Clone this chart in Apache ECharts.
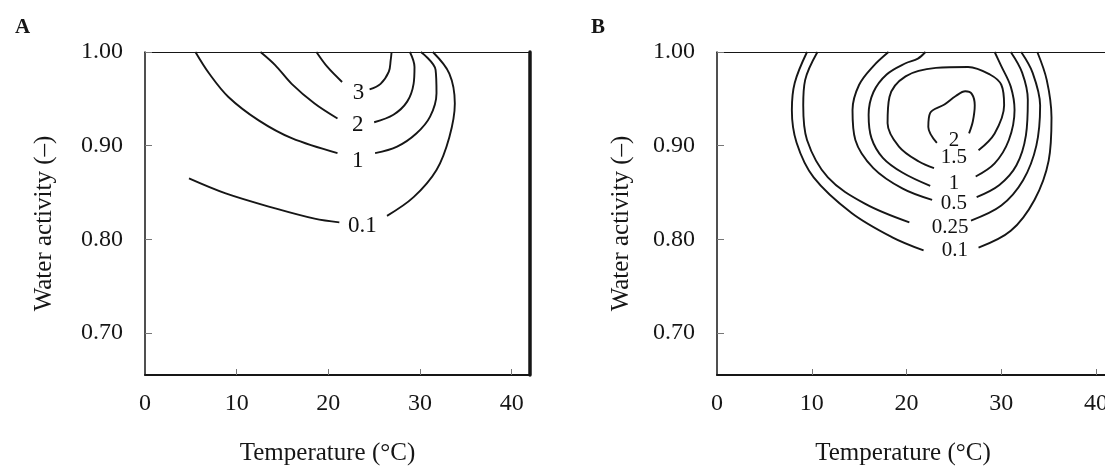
<!DOCTYPE html>
<html><head><meta charset="utf-8">
<script src="https://cdn.jsdelivr.net/npm/echarts@6/dist/echarts.min.js"></script>
<style>html,body{margin:0;padding:0;background:#fff}#c{width:1105px;height:467px}</style>
</head><body><div id="c"></div>
<script>
// ---------- data ----------
const xTickValues = [0, 10, 20, 30, 40];
const yTickValues = [0.70, 0.80, 0.90, 1.00];
const xName = 'Temperature (°C)';
const yName = 'Water activity (–)';
const panelNames = ['A', 'B'];

// Panel A contours [temperature °C, water activity]; null = gap for the label
const levelsA = ['3', '2', '1', '0.1'];
const contourA_3 = [[18.7,1.000],[19.9,0.984],[21.5,0.968], null, [24.5,0.960],[25.7,0.966],[26.6,0.979],[26.8,0.991],[26.9,1.000]];
const contourA_2 = [[12.6,1.000],[14.2,0.986],[16.0,0.966],[18.5,0.945],[21.0,0.929], null, [25.0,0.925],[27.1,0.933],[28.6,0.947],[29.3,0.966],[29.4,0.984],[28.9,1.000]];
const contourA_1 = [[5.5,1.000],[7.0,0.977],[9.1,0.952],[12.4,0.927],[16.0,0.908],[21.0,0.892], null, [25.1,0.892],[27.5,0.899],[29.6,0.913],[31.1,0.931],[31.8,0.956],[31.7,0.981],[30.1,1.000]];
const contourA_01 = [[4.8,0.865],[8.8,0.849],[14.2,0.833],[18.5,0.822],[21.2,0.818], null, [26.4,0.825],[29.3,0.845],[31.8,0.874],[33.2,0.909],[33.8,0.945],[33.2,0.977],[31.4,1.000]];
const labelPosA = [[23.3,0.956],[23.2,0.922],[23.2,0.884],[23.7,0.814]];

// Panel B contours
const levelsB = ['2', '1.5', '1', '0.5', '0.25', '0.1'];
const contourB_2 = [[23.2,0.903],[22.3,0.920],[22.5,0.935],[24.0,0.944],[25.2,0.953],[26.2,0.958],[26.9,0.955],[27.2,0.943],[27.0,0.926],[26.6,0.913]];
const contourB_15 = [[22.9,0.876],[21.3,0.883],[19.2,0.899],[18.0,0.924],[18.2,0.952],[19.9,0.974],[23.1,0.983],[26.5,0.984],[28.8,0.976],[30.0,0.965],[30.3,0.943],[29.3,0.913],[27.6,0.895]];
const contourB_1 = [[22.0,1.000],[21.2,0.993],[19.9,0.988],[17.9,0.976],[16.5,0.957],[16.0,0.933],[16.3,0.908],[17.5,0.887],[19.6,0.871],[22.5,0.857], null, [27.3,0.867],[29.3,0.881],[30.8,0.906],[31.4,0.938],[31.0,0.963],[30.0,0.985],[29.3,1.000]];
const contourB_05 = [[18.1,1.000],[16.5,0.985],[15.0,0.965],[14.3,0.938],[14.6,0.906],[16.5,0.876],[19.6,0.854],[22.7,0.842], null, [27.4,0.845],[29.8,0.858],[31.6,0.879],[32.6,0.911],[32.8,0.949],[32.2,0.978],[31.0,1.000]];
const contourB_025 = [[10.6,1.000],[9.3,0.970],[9.1,0.943],[9.5,0.906],[11.7,0.866],[15.6,0.838],[20.3,0.818], null, [26.8,0.820],[30.0,0.836],[32.3,0.863],[33.7,0.900],[34.1,0.943],[33.3,0.978],[32.1,1.000]];
const contourB_01 = [[9.5,1.000],[8.2,0.967],[7.9,0.938],[8.4,0.903],[10.2,0.866],[14.2,0.828],[18.5,0.802],[21.8,0.788], null, [27.6,0.791],[31.0,0.809],[33.5,0.842],[35.0,0.884],[35.3,0.930],[34.8,0.970],[33.8,1.000]];
const labelPosB = [[25.0,0.906],[25.0,0.887],[25.0,0.860],[25.0,0.838],[24.6,0.813],[25.1,0.788]];

// ---------- chart ----------
const FONT = '"Liberation Serif", "Times New Roman", serif';
const INK = '#161616';
const contoursA = [contourA_3, contourA_2, contourA_1, contourA_01];
const contoursB = [contourB_2, contourB_15, contourB_1, contourB_05, contourB_025, contourB_01];

function splitSegments(arr) {
  const segs = []; let cur = [];
  arr.forEach(p => { if (p === null) { if (cur.length) segs.push(cur); cur = []; } else cur.push(p); });
  if (cur.length) segs.push(cur);
  return segs;
}

const series = [];
function addPanel(contours, levels, labelPos, axisIdx, labelSize) {
  contours.forEach(c => {
    splitSegments(c).forEach(seg => {
      series.push({
        type: 'line', xAxisIndex: axisIdx, yAxisIndex: axisIdx, data: seg,
        smooth: 0.35, symbol: 'none', silent: true,
        lineStyle: { color: INK, width: 1.9 }
      });
    });
  });
  series.push({
    type: 'scatter', xAxisIndex: axisIdx, yAxisIndex: axisIdx, silent: true,
    symbol: 'circle', symbolSize: 1, itemStyle: { color: '#ffffff', opacity: 1 },
    data: labelPos.map((p, i) => ({ value: p, name: levels[i] })),
    label: { show: true, position: 'inside', formatter: '{b}', color: '#111', opacity: 1,
             textBorderWidth: 0, fontFamily: FONT, fontSize: labelSize },
    z: 5
  });
}
addPanel(contoursA, levelsA, labelPosA, 0, 23);
addPanel(contoursB, levelsB, labelPosB, 2, 21);

function mainX(grid, padRight) {
  return {
    gridIndex: grid, type: 'value', min: 0, max: 42, position: 'bottom',
    name: xName, nameLocation: 'middle', nameGap: 66,
    nameTextStyle: { fontFamily: FONT, fontSize: 25, color: INK, padding: [0, padRight, 0, 0] },
    axisLine: { show: true, onZero: false, lineStyle: { color: INK, width: 2 } },
    axisTick: { show: true, inside: true, length: 6, customValues: [10, 20, 30, 40], lineStyle: { color: '#777', width: 1 } },
    axisLabel: { customValues: xTickValues, margin: 17, fontFamily: FONT, fontSize: 24, color: INK },
    splitLine: { show: false }
  };
}
function topX(grid) {
  return {
    gridIndex: grid, type: 'value', min: 0, max: 42, position: 'top',
    axisLine: { show: true, onZero: false, lineStyle: { color: INK, width: 1.2 } },
    axisTick: { show: false }, axisLabel: { show: false }, splitLine: { show: false }
  };
}
function mainY(grid, gap) {
  return {
    gridIndex: grid, type: 'value', min: 0.655, max: 1.0, position: 'left',
    name: yName, nameLocation: 'middle', nameGap: gap, nameRotate: 90,
    nameTextStyle: { fontFamily: FONT, fontSize: 25, color: INK, padding: [0, 20, 0, 0] },
    axisLine: { show: true, onZero: false, lineStyle: { color: INK, width: 1.5 } },
    axisTick: { show: true, inside: true, length: 7, customValues: yTickValues, lineStyle: { color: '#777', width: 1 } },
    axisLabel: { customValues: yTickValues, margin: 22, fontFamily: FONT, fontSize: 24, color: INK,
                 formatter: v => v.toFixed(2) },
    splitLine: { show: false }
  };
}
function rightY(grid, w) {
  return {
    gridIndex: grid, type: 'value', min: 0.655, max: 1.0, position: 'right',
    axisLine: { show: true, onZero: false, lineStyle: { color: INK, width: w } },
    axisTick: { show: false }, axisLabel: { show: false }, splitLine: { show: false }
  };
}

const chart = echarts.init(document.getElementById('c'), null, { renderer: 'canvas' });
chart.setOption({
  animation: false,
  backgroundColor: '#fff',
  title: [
    { text: panelNames[0], left: 10, top: 12, textStyle: { fontFamily: FONT, fontSize: 21, fontWeight: 'bold', color: INK } },
    { text: panelNames[1], left: 586, top: 12, textStyle: { fontFamily: FONT, fontSize: 21, fontWeight: 'bold', color: INK } }
  ],
  grid: [
    { left: 145, top: 52, width: 385, height: 323, containLabel: false, outerBoundsMode: 'none' },
    { left: 717, top: 52, width: 398, height: 323, containLabel: false, outerBoundsMode: 'none' }
  ],
  xAxis: [mainX(0, 20), topX(0), mainX(1, 26), topX(1)],
  yAxis: [mainY(0, 88), rightY(0, 3.5), mainY(1, 83), rightY(1, 1.5)],
  series: series
});
</script></body></html>
